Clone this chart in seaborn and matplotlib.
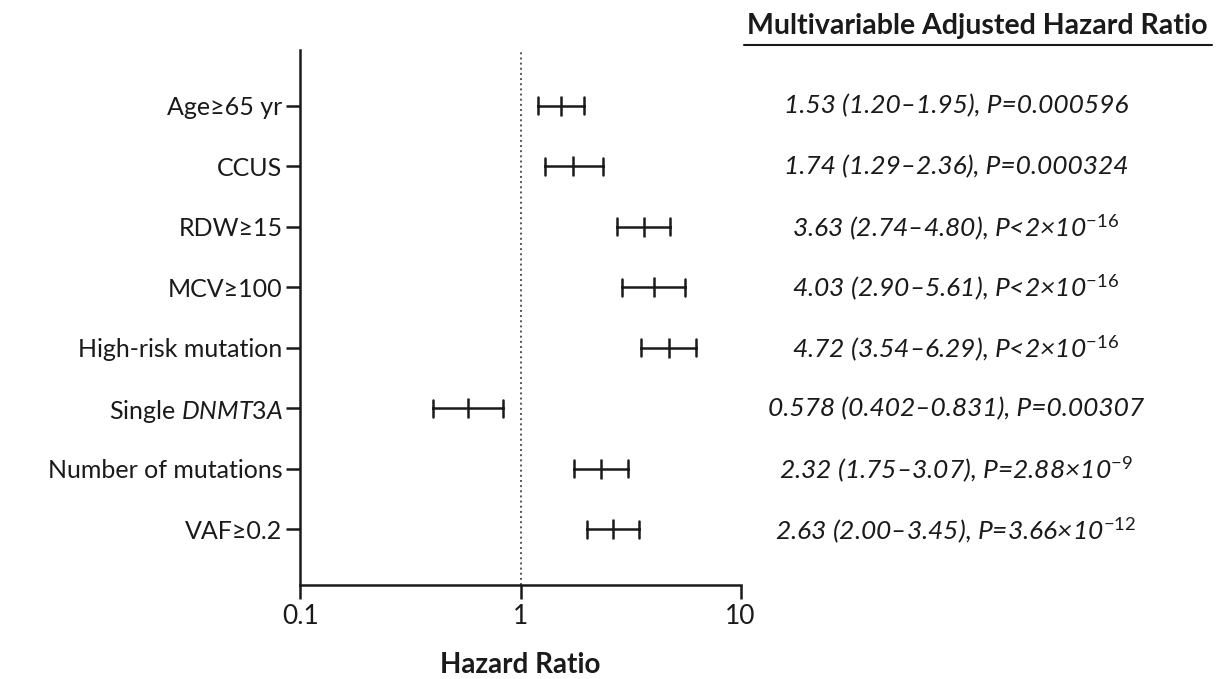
import numpy as np
import pandas as pd
import matplotlib
matplotlib.use('Agg')
import matplotlib.pyplot as plt
import matplotlib.ticker as mticker
import seaborn as sns

# values (hazard ratio and 95% CI)
labels = ['Age≥65 yr', 'CCUS', 'RDW≥15', 'MCV≥100', 'High-risk mutation',
          r'Single $\mathit{DNMT3A}$', 'Number of mutations', 'VAF≥0.2']
hr = [1.53, 1.74, 3.63, 4.03, 4.72, 0.578, 2.32, 2.63]
ci_low = [1.20, 1.29, 2.74, 2.90, 3.54, 0.402, 1.75, 2.00]
ci_high = [1.95, 2.36, 4.80, 5.61, 6.29, 0.831, 3.07, 3.45]
hr_text = ['1.53 (1.20–1.95)', '1.74 (1.29–2.36)', '3.63 (2.74–4.80)', '4.03 (2.90–5.61)',
           '4.72 (3.54–6.29)', '0.578 (0.402–0.831)', '2.32 (1.75–3.07)', '2.63 (2.00–3.45)']
p_text = ['P=0.000596', 'P=0.000324', r'P<2×10$^{-16}$', r'P<2×10$^{-16}$',
          r'P<2×10$^{-16}$', 'P=0.00307', r'P=2.88×10$^{-9}$', r'P=3.66×10$^{-12}$']
x_ticks = [0.1, 1, 10]
x_ticklabels = ['0.1', '1', '10']

sns.set_theme(style='ticks')
plt.rcParams['font.family'] = ['Lato', 'DejaVu Sans']
plt.rcParams['mathtext.fontset'] = 'custom'
plt.rcParams['mathtext.rm'] = 'Lato'
plt.rcParams['mathtext.it'] = 'Lato:italic'
plt.rcParams['mathtext.default'] = 'it'

# long table: low / estimate / high per row -> median gives HR, min/max the CI
rows = []
for lab, lo, h, hi in zip(labels, ci_low, hr, ci_high):
    for v in (lo, h, hi):
        rows.append({'label': lab, 'value': v})
df = pd.DataFrame(rows)

fig = plt.figure(figsize=(12.19, 6.79), dpi=100)
ax = fig.add_axes([0.2465, 0.1384, 0.3610, 0.7880])

ink = '#1a1a1a'
sns.pointplot(data=df, x='value', y='label', order=labels, estimator='median',
              errorbar=lambda v: (v.min(), v.max()), log_scale=True,
              linestyle='none', marker='|', markersize=15, markeredgewidth=1.8,
              color=ink, capsize=0.28, err_kws={'linewidth': 1.8}, ax=ax)

ax.axvline(1, ls=':', color='#555555', lw=1.4, zorder=0)

ax.set_xlim(0.1, 10)
ax.set_ylim(7.92, -0.92)
ax.xaxis.set_major_locator(mticker.FixedLocator(x_ticks))
ax.xaxis.set_major_formatter(mticker.FixedFormatter(x_ticklabels))
ax.xaxis.set_minor_locator(mticker.NullLocator())

for s in ['top', 'right']:
    ax.spines[s].set_visible(False)
for s in ['left', 'bottom']:
    ax.spines[s].set_linewidth(1.8)
    ax.spines[s].set_color(ink)
ax.tick_params(axis='both', length=10, width=1.8, color=ink, labelcolor=ink, pad=3)
ax.tick_params(axis='y', labelsize=18)
ax.tick_params(axis='x', labelsize=19, pad=4)
ax.set_ylabel('')
ax.set_xlabel('Hazard Ratio', fontsize=20, fontweight='bold', color=ink, labelpad=16)

# right-hand annotation column
for i, (t, p) in enumerate(zip(hr_text, p_text)):
    ax.annotate(t + ', ' + p, xy=(956 / 1219, i), xycoords=('figure fraction', 'data'),
                fontsize=19, style='italic', color=ink, ha='center', va='center',
                annotation_clip=False)

fig.text(977 / 1219, 1 - 26 / 679, 'Multivariable Adjusted Hazard Ratio', fontsize=20.5,
         fontweight='bold', color=ink, ha='center', va='center')
fig.add_artist(plt.Line2D([744 / 1219, 1212 / 1219], [1 - 45 / 679, 1 - 45 / 679],
                          color=ink, lw=1.5))

fig.savefig('out.png', dpi=100)
